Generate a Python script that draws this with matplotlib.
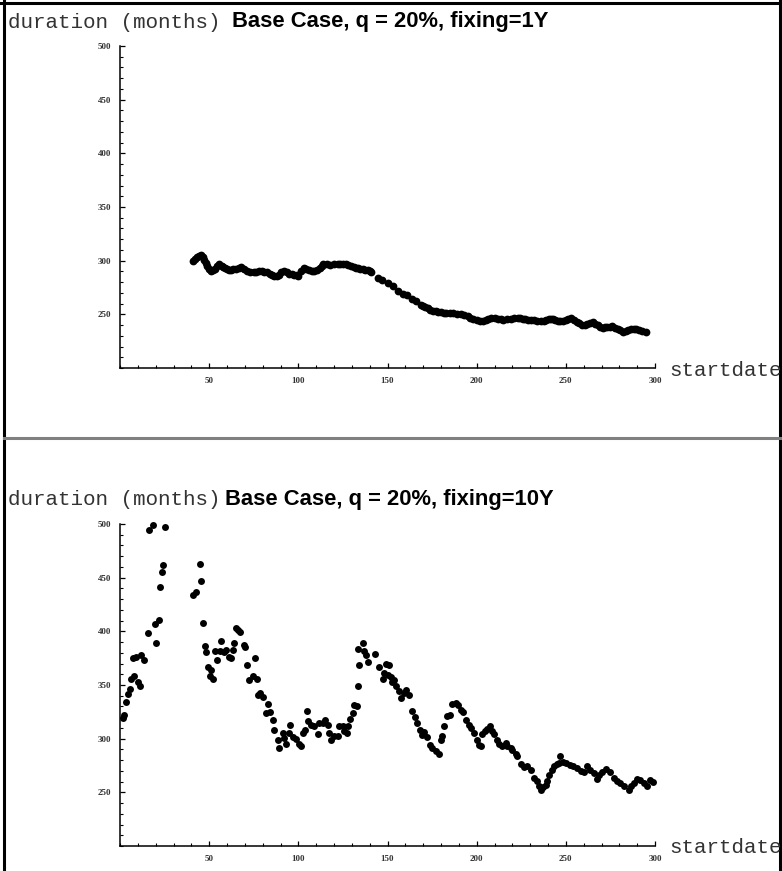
import matplotlib
matplotlib.use("Agg")
import matplotlib.pyplot as plt
from matplotlib.lines import Line2D
from matplotlib.ticker import MultipleLocator

# ---------------- data ----------------
top_month = [40.9, 42, 43, 44.3, 45.5, 46.3, 47, 48, 49, 50, 51, 52, 53, 54.3, 55.6, 57, 58, 59, 60,
             61, 62, 63.5, 65, 66.5, 68, 69.5, 71, 73, 75, 76.5, 78, 79.5, 81, 82.5, 84, 85.3, 86.5,
             88, 89, 90.5, 92, 93.5, 95, 96.3, 97.6, 99, 100, 101.5, 103, 104.5, 106, 107.5, 109,
             110.5, 112, 113, 114, 116, 118, 120, 122, 123.5, 125, 126.5, 128, 129.5, 131, 132.2,
             133.4, 134.7, 136, 137.5, 139, 140, 141, 144.6, 147, 150, 153, 156, 158.6, 161, 164,
             166, 168.7, 170, 171, 172.5, 174, 175.5, 177, 178.5, 180, 181.5, 183, 185, 187, 189,
             191, 193, 195, 196.5, 198, 200, 202, 203.5, 205, 206.5, 208, 210, 212, 213.5, 215, 217,
             219, 221, 223, 224.5, 226, 227.3, 228.6, 230.3, 232, 234, 236, 237.5, 239, 240.3,
             241.5, 242.8, 244, 245.5, 247, 248.5, 250, 251.3, 252.7, 254.3, 256, 257.5, 259, 260.5,
             262, 263.5, 265, 266.5, 268, 269.3, 270.6, 271.8, 273, 274.5, 276, 277.5, 279, 280.5,
             282, 283.5, 285, 286.5, 288, 289.5, 291, 292.8, 294.7]
top_duration = [300, 302, 303, 304.5, 305.6, 303, 301, 298, 295, 292, 290, 291, 292, 295, 297, 295,
                294, 293, 292, 291.5, 291.6, 292, 292, 293, 294, 292, 290, 289.5, 289, 289.5, 290,
                290, 289.5, 289, 288, 286.5, 285.4, 286, 287, 289, 290, 289, 288, 287.5, 287, 286.5,
                286, 290, 293.5, 292, 291, 290.5, 290, 291.5, 293, 295, 297, 296.5, 296, 296.5, 297,
                297, 297, 296.5, 296, 295, 294, 293.5, 293, 292.5, 292, 291.5, 291, 290, 289, 284,
                282, 279.5, 276, 272, 269, 268, 264.6, 262, 259, 258, 257, 255.5, 254, 253.5, 253,
                252.5, 252, 251.7, 251.5, 251.5, 251.5, 250.5, 250, 249, 248, 247, 246, 245, 243.5,
                244, 245, 246, 247, 246.5, 246, 245.5, 245, 245.5, 246, 246.5, 247, 246.5, 246,
                245.5, 245, 245, 245, 244, 243.5, 244, 245, 245.5, 246, 245.5, 245, 244, 243.5, 244,
                245, 246, 247, 245, 243, 241.5, 240, 240.5, 241, 242, 242.5, 241, 240, 238.5, 237.6,
                237.8, 238, 238.5, 239, 237.5, 236, 235, 234, 234.5, 235, 236, 236.7, 236, 235,
                234.5, 234]

bot_month = [1.5, 2.5, 3.5, 4.5, 5.5, 6.3, 7.3, 8, 8.8, 10, 11.2, 12, 13.5, 15.5, 16.5, 18.5, 19.4,
             20.3, 21.6, 22.7, 23.5, 24.2, 25.5,
             40.9, 42.7, 44.6, 45.5, 46.8, 47.4, 48.3, 49.3, 50.2, 51.1, 52, 53, 54.5, 55.8, 56.7,
             58.2, 59.5, 61.4, 62.3, 63.3, 64.2, 65.1, 66.4, 67.5, 69.4, 70.2, 71.3, 72.6, 74.5,
             75.8, 77, 77.3, 78.7, 80, 82, 83.2, 84.3, 85.7, 86.6, 88.5, 89.4, 91.2, 92, 93, 94.6,
             95.4, 96.9, 98.7, 100.2, 101.5, 102.5, 103.7, 104.9, 105.5, 107, 109, 110.8, 111.8,
             113.6, 115, 116.4, 117.4, 118.3, 120.2, 122, 122.9, 124.8, 125.7, 127.3, 128, 129.1,
             130.4, 131.4, 132.9, 133.3, 133.6, 134.2, 136, 137, 137.9, 139.2, 142.9, 145.4, 147.2,
             148, 149, 150, 151, 152, 152.8, 153.8, 155, 156.5, 157.5, 159, 160.3, 162, 164, 165.5,
             166.8, 168.3, 169.1, 170.2, 172, 173.9, 175.2, 177.1, 178.9, 179.9, 180.8, 181.7,
             183.3, 185, 186.4, 188.3, 189.6, 191, 192.6, 193.9, 195.7, 196.6, 198.6, 200, 201.4,
             202.3, 203.2, 204.5, 205.8, 207.3, 208.5, 209.5, 211.2, 212.5, 214.4, 216.2, 217,
             219.1, 220, 221.9, 222.8, 224.7, 226.6, 228.4, 230.6, 232.1, 233.6, 234.9, 235.8,
             237.3, 238.7, 239.6, 240.5, 242, 243.3, 244.8, 246, 247, 248.5, 250.3, 252.3, 254,
             256.4, 258.3, 260, 262, 263.5, 265.7, 267.3, 268.6, 270.5, 272.8, 275, 277, 278.8,
             280.3, 282.5, 285.3, 286.6, 288, 290, 291.8, 293.6, 295.5, 297.4, 298.9]
bot_duration = [319, 322, 334, 342, 346, 356, 375, 358, 376, 353, 349, 378, 373, 398, 494, 499, 407,
                389, 411, 441, 455, 462, 497,
                434, 437, 463, 447, 408, 386, 381, 367, 358, 364, 356, 382, 373, 382, 391,
                380.5, 382.6, 376.5, 375, 382.6, 389.5, 403, 401, 399.7, 387, 385.7, 368.7, 355, 358,
                375.5, 356, 341, 342.5, 339, 323.8, 332.5, 325, 317, 308, 298.5, 291.4, 305, 301,
                295.4, 305, 313, 301.5, 299.7, 295.3, 293.5, 305, 308.5, 325.5, 316, 313, 311.6,
                304.8, 315, 314.5, 317.7, 313, 305, 298.5, 302.8, 302.8, 311.5, 311.5, 307, 305,
                311.5, 318.3, 324, 331.6, 330.8, 349.5, 383.3, 368.8, 389.5, 381.8, 378, 371, 379,
                367, 355.5, 361, 369.7, 359, 368.7, 357.9, 353, 354.8, 349, 344, 337.8, 343, 345.5,
                340.8, 325.4, 320, 314.5, 308.4, 303.7, 305.9, 302, 294.4, 291.3, 288.2, 286, 299,
                302.8, 312, 321.4, 322.3, 332.5, 333, 331.6, 327, 324.5, 317.6, 313, 310, 305.3, 299,
                294.4, 293, 304.6, 306.8, 309, 311.4, 306.8, 304.6, 299, 295.4, 293.5, 296, 293.5,
                291.3, 289.8, 286, 283.6, 276, 274, 274.5, 271, 263.5, 260.4, 255.7, 252, 255, 257.2,
                260.4, 266.5, 270.6, 274.3, 276.8, 277.3, 283.5, 278, 277.3, 275.9, 274.5, 272.7,
                269.6, 268.6, 274.9, 271.2, 268, 262.5, 266.5, 268.6, 271.8, 268.6, 263.5, 260.4,
                258.8, 255.7, 252.6, 256.3, 258.8, 262.5, 261.3, 258.8, 256.3, 261.3, 259.5]

x_ticks = [50, 100, 150, 200, 250, 300]
y_ticks = [250, 300, 350, 400, 450, 500]
titles = ["Base Case, q = 20%, fixing=1Y", "Base Case, q = 20%, fixing=10Y"]
y_label = "duration (months)"
x_label = "startdate"

# ---------------- layout ----------------
W, H = 782, 871
fig = plt.figure(figsize=(W / 100, H / 100), dpi=100)
fig.patch.set_facecolor("white")


def fx(px):
    return px / W


def fy(py):
    return 1 - py / H


panels = [
    dict(top=46, bottom=368, title_y=22, title_x=232, label_y=22, sd_y=370,
         x=top_month, y=top_duration, title=titles[0], ms=5.6),
    dict(top=524, bottom=846, title_y=499, title_x=225, label_y=499, sd_y=847,
         x=bot_month, y=bot_duration, title=titles[1], ms=5.0),
]

for p in panels:
    ax = fig.add_axes([fx(120), fy(p["bottom"]), fx(655) - fx(120),
                       fy(p["top"]) - fy(p["bottom"])])
    ax.plot(p["x"], p["y"], "o", color="black", ms=p["ms"], mew=0, clip_on=False)
    ax.set_xlim(0, 300)
    ax.set_ylim(200, 500)
    for s in ["top", "right"]:
        ax.spines[s].set_visible(False)
    for s in ["left", "bottom"]:
        ax.spines[s].set_linewidth(1.1)
    ax.set_xticks(x_ticks)
    ax.set_yticks(y_ticks)
    ax.xaxis.set_minor_locator(MultipleLocator(10))
    ax.yaxis.set_minor_locator(MultipleLocator(10))
    ax.tick_params(which="major", direction="in", length=3.5, width=0.9,
                   labelsize=6.5, pad=6.5)
    ax.tick_params(which="minor", direction="in", length=2.2, width=0.8)
    for lab in ax.get_xticklabels() + ax.get_yticklabels():
        lab.set_family("Liberation Serif")
        lab.set_fontweight("bold")
        lab.set_color("#333333")
    ax.set_facecolor("none")

    fig.text(fx(8), fy(p["label_y"]), y_label, family="Liberation Mono",
             fontsize=15, va="center", ha="left", color="#333333")
    fig.text(fx(p["title_x"]), fy(p["title_y"]), p["title"], family="Liberation Sans",
             fontweight="bold", fontsize=15.8, va="center", ha="left")
    fig.text(fx(669), fy(p["sd_y"]), x_label, family="Liberation Mono",
             fontsize=15, va="center", ha="left", color="#333333")

# frame lines
fig.add_artist(Line2D([fx(4), fx(4)], [fy(0), fy(871)], color="black", lw=2.2,
                      transform=fig.transFigure))
fig.add_artist(Line2D([fx(780), fx(780)], [fy(0), fy(871)], color="black", lw=2.2,
                      transform=fig.transFigure))
fig.add_artist(Line2D([fx(0), fx(782)], [fy(3), fy(3)], color="black", lw=2.2,
                      transform=fig.transFigure))
fig.add_artist(Line2D([fx(4), fx(782)], [fy(438), fy(438)], color="#808080", lw=2.2,
                      transform=fig.transFigure))

fig.savefig("out.png", dpi=100, facecolor="white")
